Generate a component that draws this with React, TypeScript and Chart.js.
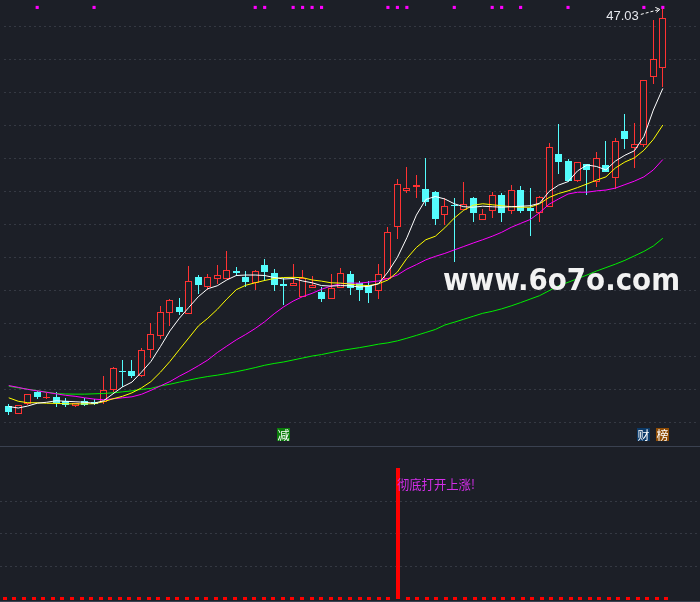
import React, { useEffect, useRef } from 'react';
import { Chart, registerables } from 'chart.js';

Chart.register(...registerables);

// ---------- data ----------
const slots: string[] = Array.from({ length: 73 }, (_, i) => String(i + 1));

const open = [22.99, 22.49, 23.06, 23.82, 23.42, 23.52, 23.28, 22.97, 23.26, 23.22,
  23.21, 23.92, 25.09, 25.07, 24.79, 26.38, 27.19, 28.58, 28.94, 28.56,
  30.76, 30.17, 30.65, 30.65, 31.12, 30.76, 30.43, 31.51, 31.02, 30.37,
  30.23, 29.56, 30.13, 29.87, 29.43, 30.11, 30.94, 30.41, 30.32, 29.93,
  30.66, 33.80, 36.00, 36.24, 36.14, 35.92, 34.51, 35.15, 34.87, 35.54,
  34.22, 34.81, 35.76, 34.81, 36.08, 34.95, 34.63, 35.03, 38.26, 37.79,
  36.62, 37.61, 36.51, 37.57, 36.78, 39.65, 38.62, 38.80, 42.93, 43.42];

const close = [22.59, 23.03, 23.68, 23.48, 23.52, 23.16, 23.03, 23.15, 23.03, 23.10,
  23.92, 25.29, 25.03, 24.77, 26.38, 27.31, 28.68, 29.37, 28.64, 30.53,
  30.32, 30.80, 30.88, 31.18, 31.02, 30.47, 31.12, 31.06, 30.32, 30.26,
  30.43, 30.75, 30.31, 29.43, 30.11, 31.00, 30.11, 29.97, 29.79, 30.94,
  33.52, 36.42, 36.20, 36.38, 35.32, 34.28, 35.11, 35.09, 35.23, 34.67,
  34.61, 35.76, 34.63, 36.06, 34.77, 34.81, 35.62, 38.66, 37.76, 36.57,
  37.76, 37.25, 37.97, 37.17, 39.04, 39.13, 38.86, 42.73, 43.98, 46.48];

const high = [23.09, 23.04, 23.70, 23.86, 23.72, 23.79, 23.42, 23.16, 23.42, 23.40,
  24.81, 25.31, 25.76, 25.76, 26.46, 27.98, 29.04, 29.47, 29.51, 31.45,
  30.92, 30.96, 31.51, 32.35, 31.36, 31.12, 31.22, 31.85, 31.26, 30.75,
  31.56, 31.20, 30.82, 30.19, 30.96, 31.32, 31.14, 30.56, 30.53, 31.56,
  33.80, 36.72, 37.47, 36.97, 37.98, 35.98, 35.59, 35.59, 36.56, 35.62,
  34.89, 35.92, 35.86, 36.38, 36.32, 36.18, 35.66, 38.90, 40.05, 37.91,
  37.77, 37.65, 38.34, 39.00, 39.19, 40.68, 40.09, 42.75, 46.34, 47.03];

const low = [22.41, 22.48, 23.04, 23.40, 23.41, 22.93, 22.88, 22.88, 22.99, 23.02,
  23.09, 23.82, 24.12, 24.67, 24.71, 25.90, 27.05, 27.82, 28.48, 28.52,
  29.73, 29.97, 30.38, 30.64, 30.86, 30.17, 29.97, 30.56, 29.93, 29.07,
  30.22, 29.55, 30.12, 29.26, 29.42, 30.10, 29.71, 29.31, 29.23, 29.47,
  30.65, 33.10, 35.86, 35.56, 35.09, 33.94, 33.94, 31.66, 34.86, 34.13,
  34.21, 34.34, 34.13, 34.61, 34.63, 33.24, 34.10, 35.02, 37.05, 36.56,
  36.51, 35.76, 36.22, 37.16, 36.12, 38.54, 37.41, 38.66, 42.47, 42.27];

const ma5 = [22.93, 22.84, 22.96, 23.13, 23.19, 23.28, 23.25, 23.22, 23.19, 23.13,
  23.28, 23.70, 24.12, 24.41, 25.01, 25.66, 26.56, 27.51, 28.28, 28.94,
  29.59, 30.07, 30.25, 30.60, 30.87, 30.90, 30.90, 30.87, 30.75, 30.66,
  30.69, 30.54, 30.43, 30.26, 30.23, 30.26, 30.25, 30.17, 30.22, 30.37,
  31.08, 31.97, 33.16, 34.53, 35.48, 35.66, 35.51, 35.22, 35.04, 35.01,
  35.07, 35.04, 35.01, 35.04, 35.07, 35.10, 35.25, 35.96, 36.35, 36.56,
  37.21, 37.57, 37.48, 37.27, 37.81, 38.16, 38.43, 39.29, 40.90, 42.21];

const ma10 = [23.46, 23.25, 23.16, 23.16, 23.13, 23.12, 23.10, 23.09, 23.09, 23.10,
  23.22, 23.40, 23.55, 23.76, 24.06, 24.44, 25.01, 25.66, 26.38, 27.09,
  27.81, 28.28, 28.82, 29.44, 30.01, 30.28, 30.43, 30.57, 30.69, 30.75,
  30.76, 30.74, 30.60, 30.53, 30.43, 30.41, 30.35, 30.28, 30.26, 30.37,
  30.60, 31.08, 31.91, 32.57, 33.04, 33.25, 33.76, 34.35, 34.83, 35.13,
  35.22, 35.16, 35.10, 35.04, 35.01, 35.01, 35.22, 35.60, 35.84, 36.00,
  36.20, 36.42, 36.65, 36.85, 37.39, 37.75, 38.00, 38.46, 39.12, 39.99];

const ma20 = [24.20, 24.09, 23.97, 23.88, 23.79, 23.70, 23.61, 23.55, 23.46, 23.38,
  23.34, 23.40, 23.46, 23.52, 23.67, 23.91, 24.18, 24.44, 24.77, 25.07,
  25.40, 25.75, 26.20, 26.59, 26.97, 27.30, 27.66, 28.07, 28.55, 28.97,
  29.32, 29.59, 29.79, 30.04, 30.23, 30.37, 30.41, 30.41, 30.47, 30.54,
  30.69, 30.90, 31.26, 31.53, 31.82, 32.03, 32.21, 32.42, 32.63, 32.84,
  33.04, 33.25, 33.49, 33.79, 34.03, 34.26, 34.68, 35.19, 35.51, 35.81,
  35.92, 35.92, 36.00, 36.05, 36.17, 36.38, 36.59, 36.85, 37.27, 37.90];

const ma60 = [24.16, 24.06, 23.98, 23.89, 23.80, 23.72, 23.69, 23.68, 23.68, 23.70,
  23.72, 23.76, 23.82, 23.88, 23.97, 24.03, 24.18, 24.28, 24.41, 24.53,
  24.65, 24.75, 24.83, 24.93, 25.04, 25.16, 25.29, 25.43, 25.54, 25.63,
  25.75, 25.87, 25.99, 26.08, 26.20, 26.32, 26.41, 26.50, 26.60, 26.71,
  26.79, 26.91, 27.07, 27.24, 27.42, 27.60, 27.87, 28.04, 28.22, 28.40,
  28.58, 28.70, 28.85, 29.03, 29.23, 29.44, 29.65, 29.95, 30.25, 30.46,
  30.68, 30.90, 31.14, 31.35, 31.56, 31.79, 32.06, 32.33, 32.66, 33.13];

const priceGrid = [22, 24, 26, 28, 30, 32, 34, 36, 38, 40, 42, 44, 46];
const priceMin = 20.78;
const priceMax = 47.327;

const topMarkerIdx = [3, 9, 26, 27, 30, 31, 32, 33, 40, 41, 42, 47, 51, 52, 54, 59, 67, 69];
const topMarkerLevel = 47.12;

const tagIdx = [29, 67, 69];
const tagText = ['减', '财', '榜'];

const signal = [0, 0, 0, 0, 0, 0, 0, 0, 0, 0,
  0, 0, 0, 0, 0, 0, 0, 0, 0, 0,
  0, 0, 0, 0, 0, 0, 0, 0, 0, 0,
  0, 0, 0, 0, 0, 0, 0, 0, 0, 0,
  0, 4, 0, 0, 0, 0, 0, 0, 0, 0,
  0, 0, 0, 0, 0, 0, 0, 0, 0, 0,
  0, 0, 0, 0, 0, 0, 0, 0, 0, 0];
const signalGrid = [1, 2, 3];
const signalMin = -0.107;
const signalMax = 4.674;
const signalText = '彻底打开上涨!';
const watermarkText = 'www.6o7o.com';

// ---------- styles ----------
const BG = '#1c1f27';
const GRID = '#353943';
const RED = '#ff3232';
const CYAN = '#54fcfc';
const SEP = '#3a4150';
const tagColors = ['#0b7d0b', '#0c3a68', '#8e4b04'];

const isUp = close.map((c, i) => c >= open[i]);
const markerData = open.map((_, i) => (topMarkerIdx.includes(i) ? topMarkerLevel : null));

// snap bar elements to whole pixels so thin wicks and hollow bodies stay crisp
const crispBars = {
  id: 'crispBars',
  afterDatasetsUpdate(chart: any) {
    chart.data.datasets.forEach((_: any, di: number) => {
      const meta = chart.getDatasetMeta(di);
      if (meta.type !== 'bar') return;
      meta.data.forEach((el: any) => {
        if (el.x == null || isNaN(el.x)) return;
        const w = el.width;
        el.x = Math.round(el.x - w / 2) + w / 2;
        const y = Math.round(el.y);
        const b = Math.round(el.base);
        el.y = y === b ? b - 1 : y;
        el.base = b;
      });
    });
  },
};

function dashGrid(values: number[]) {
  return {
    id: 'dashGrid',
    beforeDatasetsDraw(chart: any) {
      const { ctx, chartArea, scales } = chart;
      ctx.save();
      ctx.strokeStyle = GRID;
      ctx.lineWidth = 1;
      ctx.setLineDash([2, 3]);
      values.forEach((v) => {
        const py = Math.round(scales.y.getPixelForValue(v)) + 0.5;
        ctx.beginPath();
        ctx.moveTo(chartArea.left, py);
        ctx.lineTo(chartArea.right, py);
        ctx.stroke();
      });
      ctx.restore();
    },
  };
}

const mainDecor = {
  id: 'mainDecor',
  afterDatasetsDraw(chart: any) {
    const { ctx, chartArea, scales } = chart;
    const xs = scales.x;
    const ys = scales.y;
    ctx.save();
    // signal tags
    tagIdx.forEach((idx, k) => {
      const cx = xs.getPixelForValue(idx);
      const top = chartArea.bottom - 14;
      const left = Math.round(cx - 6.5);
      ctx.fillStyle = tagColors[k];
      ctx.fillRect(left, top, 13, 13);
      ctx.fillStyle = '#ffffff';
      ctx.font = '12px "Noto Sans CJK SC"';
      ctx.textAlign = 'center';
      ctx.textBaseline = 'middle';
      ctx.fillText(tagText[k], left + 6.5, top + 7);
    });
    // highest price label
    const hv = Math.max(...high);
    const iMax = high.indexOf(hv);
    const hx = xs.getPixelForValue(iMax);
    const hy = ys.getPixelForValue(hv);
    ctx.strokeStyle = '#ffffff';
    ctx.lineWidth = 1;
    ctx.setLineDash([3, 2]);
    ctx.beginPath();
    ctx.moveTo(hx - 22, hy + 5.5);
    ctx.lineTo(hx - 3, hy + 0.5);
    ctx.stroke();
    ctx.setLineDash([]);
    ctx.beginPath();
    ctx.moveTo(hx - 7.5, hy - 1.5);
    ctx.lineTo(hx - 3, hy + 0.5);
    ctx.lineTo(hx - 6.5, hy + 3.5);
    ctx.stroke();
    ctx.fillStyle = '#e6e8ee';
    ctx.font = '13px "Liberation Sans"';
    ctx.textAlign = 'right';
    ctx.textBaseline = 'alphabetic';
    ctx.fillText(hv.toFixed(2), hx - 24, hy + 10.7);
    // watermark
    ctx.font = 'bold 30px "DejaVu Sans"';
    ctx.textAlign = 'left';
    const w = ctx.measureText(watermarkText).width;
    ctx.translate(443, 289.5);
    ctx.scale(237 / w, 1);
    ctx.fillStyle = '#f2f2f2';
    ctx.fillText(watermarkText, 0, 0);
    ctx.restore();
  },
};

const lowerDecor = {
  id: 'lowerDecor',
  afterDatasetsDraw(chart: any) {
    const { ctx, chartArea, scales } = chart;
    const xs = scales.x;
    const ys = scales.y;
    ctx.save();
    ctx.strokeStyle = SEP;
    ctx.lineWidth = 1;
    ctx.beginPath();
    ctx.moveTo(chartArea.left, 0.5);
    ctx.lineTo(chartArea.right, 0.5);
    ctx.moveTo(chartArea.left, chartArea.bottom - 0.5);
    ctx.lineTo(chartArea.right, chartArea.bottom - 0.5);
    ctx.stroke();
    const sv = Math.max(...signal);
    const si = signal.indexOf(sv);
    const sx = xs.getPixelForValue(si) - 1;
    const sy = ys.getPixelForValue(sv) + 16;
    ctx.font = '13px "Noto Sans CJK SC"';
    ctx.textAlign = 'left';
    ctx.textBaseline = 'middle';
    const tw = ctx.measureText(signalText).width;
    ctx.translate(sx, sy);
    ctx.scale(78 / tw, 1);
    ctx.fillStyle = '#d22ee8';
    ctx.fillText(signalText, 0, 0);
    ctx.restore();
  },
};

function baseOptions(min: number, max: number): any {
  return {
    responsive: false,
    animation: false,
    devicePixelRatio: 1,
    events: [],
    layout: { padding: 0 },
    plugins: { legend: { display: false }, tooltip: { enabled: false } },
    scales: {
      x: { type: 'category', labels: slots, display: false, offset: true },
      y: { type: 'linear', display: false, min, max },
    },
  };
}

export default function App() {
  const topRef = useRef<HTMLCanvasElement>(null);
  const botRef = useRef<HTMLCanvasElement>(null);

  useEffect(() => {
    const lineDs = (data: number[], color: string) => ({
      type: 'line',
      data,
      borderColor: color,
      borderWidth: 1,
      pointRadius: 0,
      tension: 0,
      fill: false,
      order: 1,
    });

    const top = new Chart(topRef.current as HTMLCanvasElement, {
      type: 'bar',
      data: {
        labels: slots,
        datasets: [
          {
            type: 'line',
            data: markerData,
            showLine: false,
            pointStyle: 'rect',
            pointRadius: 2.2,
            pointBorderWidth: 0,
            pointBackgroundColor: '#ff00ff',
            order: 0,
          } as any,
          lineDs(ma5, '#ffffff') as any,
          lineDs(ma10, '#ffff00') as any,
          lineDs(ma20, '#ff00ff') as any,
          lineDs(ma60, '#00ee00') as any,
          {
            type: 'bar',
            data: open.map((o, i) => [Math.min(o, close[i]), Math.max(o, close[i])]),
            backgroundColor: isUp.map((u) => (u ? BG : CYAN)),
            borderColor: isUp.map((u) => (u ? RED : CYAN)),
            borderWidth: 1,
            borderSkipped: false,
            barThickness: 7,
            minBarLength: 1,
            grouped: false,
            inflateAmount: 0,
            order: 2,
          } as any,
          {
            type: 'bar',
            data: low.map((l, i) => [l, high[i]]),
            backgroundColor: isUp.map((u) => (u ? RED : CYAN)),
            borderWidth: 0,
            barThickness: 1,
            grouped: false,
            inflateAmount: 0,
            order: 3,
          } as any,
        ],
      },
      options: baseOptions(priceMin, priceMax),
      plugins: [crispBars, dashGrid(priceGrid), mainDecor],
    });

    const bot = new Chart(botRef.current as HTMLCanvasElement, {
      type: 'bar',
      data: {
        labels: slots,
        datasets: [
          {
            type: 'bar',
            data: signal,
            backgroundColor: '#ff0000',
            borderWidth: 0,
            barThickness: 4,
            minBarLength: 3,
            grouped: false,
            inflateAmount: 0,
          } as any,
        ],
      },
      options: baseOptions(signalMin, signalMax),
      plugins: [crispBars, dashGrid(signalGrid), lowerDecor],
    });

    return () => {
      top.destroy();
      bot.destroy();
    };
  }, []);

  return (
    <div style={{ width: 700, height: 602, background: BG }}>
      <style>{'html,body{margin:0;padding:0;background:#1c1f27;overflow:hidden}'}</style>
      <canvas ref={topRef} width={700} height={446} style={{ display: 'block' }} />
      <canvas ref={botRef} width={700} height={156} style={{ display: 'block' }} />
    </div>
  );
}
